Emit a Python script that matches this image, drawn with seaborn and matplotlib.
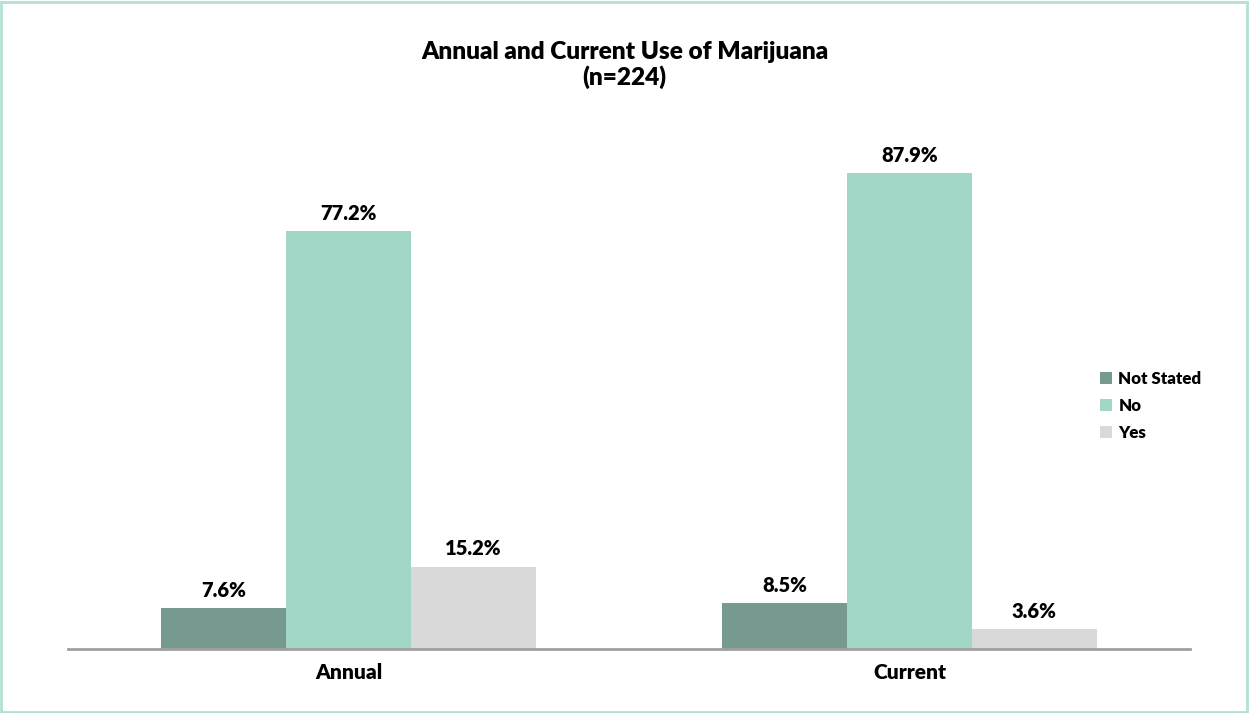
import matplotlib.pyplot as plt
import pandas as pd
import seaborn as sns
from matplotlib.patches import Rectangle

categories = ['Annual', 'Current']
responses = ['Not Stated', 'No', 'Yes']
not_stated = [7.6, 8.5]
no = [77.2, 87.9]
yes = [15.2, 3.6]

df = pd.DataFrame({
    'period': categories * 3,
    'response': ['Not Stated'] * 2 + ['No'] * 2 + ['Yes'] * 2,
    'pct': not_stated + no + yes,
})

colors = ['#769a90', '#a2d6c7', '#d9d9d9']

sns.set_style('white')
plt.rcParams['font.family'] = ['Lato', 'DejaVu Sans']
plt.rcParams['text.color'] = 'black'
plt.rcParams['xtick.color'] = 'black'

fig = plt.figure(figsize=(12.49, 7.13), dpi=100)
ax = fig.add_axes([0.0544, 0.0898, 0.8984, 0.759])

sns.barplot(data=df, x='period', y='pct', hue='response', hue_order=responses,
            palette=colors, width=0.667, saturation=1, linewidth=0, ax=ax)

for cont in ax.containers:
    ax.bar_label(cont, labels=[f'{v:.1f}%' for v in cont.datavalues],
                 padding=6, fontsize=14.5, fontweight='heavy', color='black')

ax.set_ylim(0, 100)
ax.set_xlim(-0.5, 1.5)
ax.set_xlabel('')
ax.set_ylabel('')
ax.set_yticks([])
for s in ['top', 'right', 'left']:
    ax.spines[s].set_visible(False)
ax.spines['bottom'].set_color('#a0a0a0')
ax.spines['bottom'].set_linewidth(2)
ax.tick_params(axis='x', length=0, pad=10, labelsize=15)
for t in ax.get_xticklabels():
    t.set_fontweight('heavy')

ax.legend(loc='center left', bbox_to_anchor=(0.906, 0.449), frameon=False,
          prop={'size': 12.2, 'weight': 'heavy'}, handlelength=0.7, handleheight=0.7,
          handletextpad=0.4, labelspacing=0.65)

fig.text(0.5, 0.909, 'Annual and Current Use of Marijuana\n(n=224)', ha='center',
         va='center', fontsize=17.6, fontweight='heavy', linespacing=1.15)

fig.patches.append(Rectangle((0.001, 0.002), 0.997, 0.995, transform=fig.transFigure,
                             fill=False, edgecolor='#b2e0d6', linewidth=2))

fig.savefig('out.png', dpi=100)
